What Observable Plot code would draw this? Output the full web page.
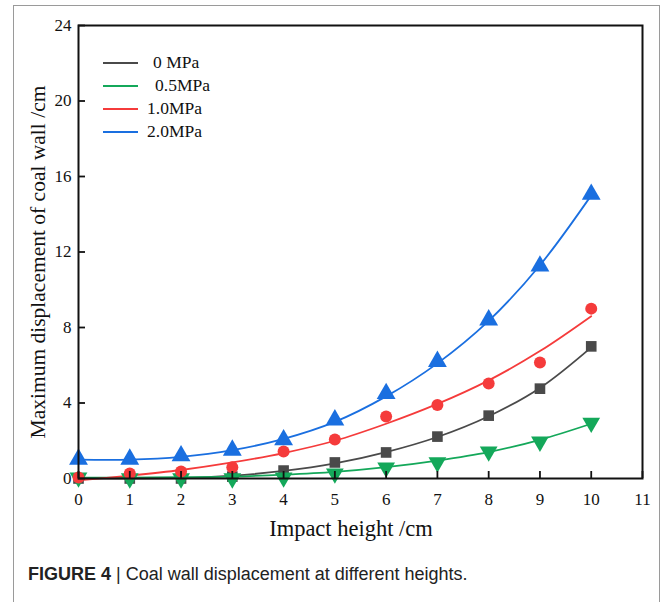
<!DOCTYPE html>
<html><head><meta charset="utf-8">
<script src="https://cdn.jsdelivr.net/npm/d3@7"></script>
<script src="https://cdn.jsdelivr.net/npm/@observablehq/plot@0.6"></script>
<style>
body{margin:0;background:#fff;width:663px;height:602px;overflow:hidden;position:relative;font-family:"Liberation Serif","Times New Roman",serif;}
#frame{position:absolute;left:13px;top:5px;width:647px;height:700px;border:1.5px solid #9a9a9a;box-sizing:border-box;}
#chart{position:absolute;left:0;top:0;}
#legend{position:absolute;left:103px;top:52px;font-size:17.5px;color:#111;}
.row{position:absolute;white-space:nowrap;height:20px;line-height:20px;}
.sw{position:absolute;left:0;top:10px;width:35px;height:0;border-top:2px solid;}
.lb{position:absolute;top:0;}
#caption{position:absolute;left:28px;top:564px;font-family:"Liberation Sans",Arial,sans-serif;font-size:18px;color:#222;white-space:nowrap;}
</style></head>
<body>
<div id="frame"></div>
<div id="chart"></div>
<div id="legend"></div>
<div id="caption"><b>FIGURE 4</b> | Coal wall displacement at different heights.</div>
<script>
const heights = [0,1,2,3,4,5,6,7,8,9,10];
const seriesNames = ["0 MPa","0.5MPa","1.0MPa","2.0MPa"];
const seriesColors = ["#4a4a4a","#14a85a","#f53b3b","#1a6fe0"];
// measured points
const pts0   = [0, 0, 0, 0.1, 0.42, 0.85, 1.38, 2.22, 3.33, 4.76, 7.0];
const pts05  = [0.05, 0, 0, 0, 0.05, 0.26, 0.58, 0.85, 1.43, 1.95, 2.95];
const pts10  = [0.05, 0.27, 0.37, 0.6, 1.43, 2.06, 3.28, 3.9, 5.03, 6.14, 9.0];
const pts20  = [1.02, 1.02, 1.2, 1.5, 2.05, 3.1, 4.5, 6.2, 8.4, 11.25, 15.05];
// fitted curves
const fit0   = [0, 0, 0.02, 0.15, 0.4, 0.8, 1.4, 2.2, 3.3, 4.8, 6.95];
const fit05  = [0.05, 0.05, 0.07, 0.1, 0.2, 0.35, 0.6, 0.95, 1.4, 2.05, 2.9];
const fit10  = [-0.1, 0.15, 0.45, 0.85, 1.35, 2.0, 2.9, 3.95, 5.2, 6.75, 8.6];
const fit20  = [1.0, 1.0, 1.15, 1.5, 2.1, 3.0, 4.35, 6.1, 8.35, 11.3, 15.0];
const xTicks = [0,1,2,3,4,5,6,7,8,9,10,11];
const yTicks = [0,4,8,12,16,20,24];

const pts = [pts0, pts05, pts10, pts20];
const fits = [fit0, fit05, fit10, fit20];
const symbols = ["square","triangle","circle","triangle"];
const rot = [0,180,0,0];
const sizes = [6.0,6.6,6.0,7.0];

const marks = [];
fits.forEach((f,i)=>{
  marks.push(Plot.line(heights.map((h,j)=>({x:h,y:f[j]})),{x:"x",y:"y",stroke:seriesColors[i],strokeWidth:1.8,curve:"catmull-rom"}));
});
pts.forEach((p,i)=>{
  marks.push(Plot.dot(heights.map((h,j)=>({x:h,y:p[j]})),{x:"x",y:"y",fill:seriesColors[i],stroke:"none",symbol:()=>symbols[i],r:sizes[i],rotate:rot[i]}));
});
marks.push(Plot.axisX({ticks:xTicks,tickSize:-7,tickPadding:21,tickFormat:d=>d,fontSize:17,label:null,stroke:"#111",strokeWidth:1.8,fontFamily:"Liberation Serif"}));
marks.push(Plot.axisY({ticks:yTicks,tickSize:-7,tickPadding:14,tickFormat:d=>d,fontSize:17,label:null,stroke:"#111",strokeWidth:1.8,fontFamily:"Liberation Serif"}));
marks.push(Plot.frame({stroke:"#111",strokeWidth:2}));

const chart = Plot.plot({
  width:663, height:555,
  marginLeft:78, marginRight:21, marginTop:25, marginBottom:77,
  x:{domain:[0,11]},
  y:{domain:[0,24]},
  style:{fontFamily:"Liberation Serif", fontSize:"17px", color:"#111", background:"transparent"},
  marks
});
const svg = d3.select(chart);
svg.append("text").attr("x",351).attr("y",536).attr("text-anchor","middle")
  .style("font-size","22.5px").style("font-family","Liberation Serif").attr("fill","#111").text("Impact height /cm");
svg.append("text").attr("transform","translate(45,262) rotate(-90)").attr("text-anchor","middle")
  .style("font-size","21.5px").style("font-family","Liberation Serif").attr("fill","#111").text("Maximum displacement of coal wall /cm");
document.getElementById("chart").appendChild(chart);

const leg = document.getElementById("legend");
const offs = [50,52,44,44];
seriesNames.forEach((n,i)=>{
  const r = document.createElement("div");
  r.className="row"; r.style.top=(i*23)+"px";
  r.innerHTML=`<div class="sw" style="border-color:${seriesColors[i]}"></div><div class="lb" style="left:${offs[i]}px">${n}</div>`;
  leg.appendChild(r);
});
</script>
</body></html>
